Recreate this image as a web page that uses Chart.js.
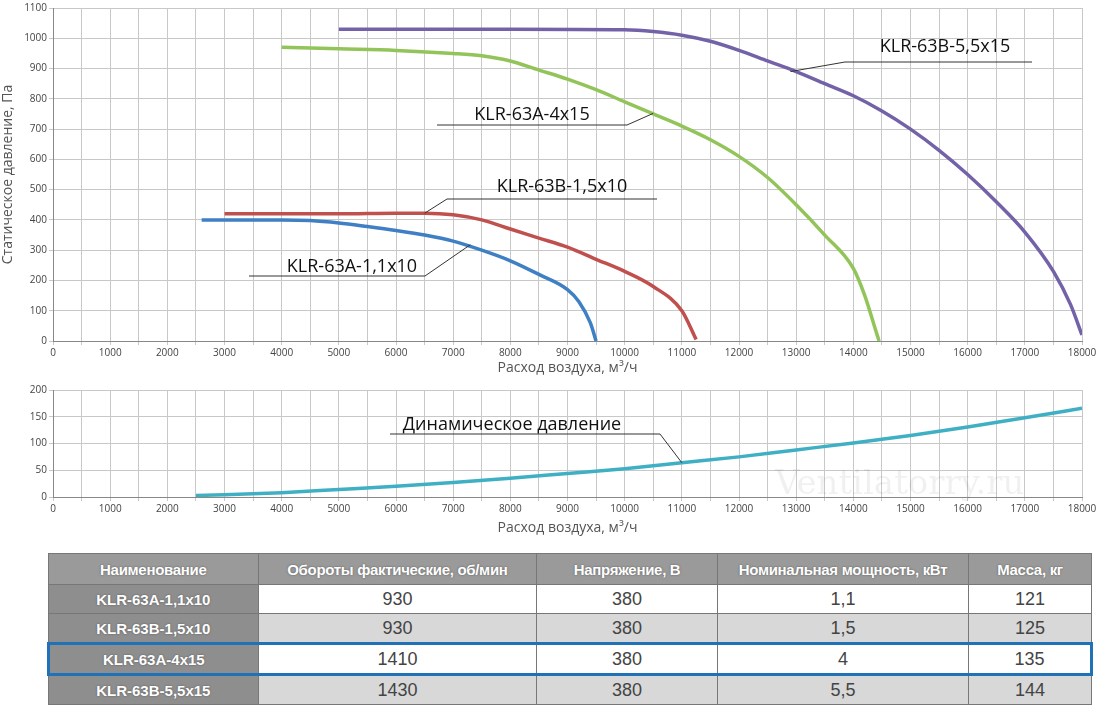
<!DOCTYPE html>
<html><head><meta charset="utf-8">
<script src="https://cdn.jsdelivr.net/npm/chart.js@4"></script>
<style>
body{margin:0;background:#fff;width:1100px;height:707px;position:relative;overflow:hidden;font-family:"Open Sans",sans-serif}
#c1w{position:absolute;left:0;top:0;width:1100px;height:380px}
#c2w{position:absolute;left:0;top:380px;width:1100px;height:160px}
table{position:absolute;left:47px;top:553px;width:1046px;border-collapse:collapse;font-family:"Liberation Sans","DejaVu Sans Condensed",sans-serif;font-size:18px;color:#333}
td,th{border:1px solid #777;height:28px;text-align:center;padding:0}
td{font-weight:300;color:#444}
th{background:#9a9a9a;color:#fff;font-weight:bold;font-size:15px;text-shadow:0 0 2px #555;height:30px;letter-spacing:-0.3px}
tr td.n{background:#8e8e8e;color:#fff;font-weight:bold;font-size:15px;text-shadow:0 0 2px #555}
tr.g td{background:#d8d8d8}
tr.g td.n{background:#8e8e8e}
tr.hl td{border-top:3px solid #1f72b8;border-bottom:3px solid #1f72b8}
tr.hl td:first-child{border-left:3px solid #1f72b8}
tr.hl td:last-child{border-right:3px solid #1f72b8}
#wm{position:absolute;left:775px;top:462px;font-size:34px;color:rgba(0,0,0,0.06);font-family:"DejaVu Serif",serif}
</style></head><body>
<div id="c1w"><canvas id="c1"></canvas></div>
<div id="c2w"><canvas id="c2"></canvas></div>
<div id="wm">Ventilatorry.ru</div>
<table id="tbl"></table>
<script>
const sA11x=[2600,3000,4000,4500,5000,5500,6000,6500,7000,7500,8000,8500,9000,9200,9400,9500];
const sA11y=[400,400,400,398,390,378,365,350,330,300,265,220,170,130,60,0];
const sB15x=[3000,4000,5000,6000,6500,7000,7500,8000,8500,9000,9500,10000,10500,11000,11250];
const sB15y=[420,420,420,422,422,417,400,370,340,310,270,230,180,100,5];
const sA4x=[4000,5000,6000,7000,7500,8000,8500,9000,9500,10000,10500,11000,11500,12000,12500,13000,13500,14000,14200,14400,14450];
const sA4y=[970,965,960,950,942,925,895,865,830,790,750,710,665,610,540,450,350,240,150,30,0];
const sB55x=[5000,8000,10000,10500,11000,11500,12000,12500,13000,13500,14000,14500,15000,15500,16000,16500,17000,17500,17800,18000];
const sB55y=[1030,1030,1028,1022,1010,990,960,925,890,850,810,760,700,630,550,460,360,230,120,20];
const dynX=[2500,3000,4000,5000,6000,7000,8000,9000,10000,11000,12000,13000,14000,15000,16000,17000,18000];
const dynY=[3,4,8,14,20,27,35,44,53,64,75,88,101,115,131,148,166];
const names=["KLR-63A-1,1x10","KLR-63B-1,5x10","KLR-63A-4x15","KLR-63B-5,5x15"];
const rpm=["930","930","1410","1430"];
const volt=["380","380","380","380"];
const power=["1,1","1,5","4","5,5"];
const mass=["121","125","135","144"];
const headers=["Наименование","Обороты фактические, об/мин","Напряжение, В","Номинальная мощность, кВт","Масса, кг"];
const xTitle="Расход воздуха, м³/ч";

const pts=(xs,ys)=>xs.map((x,i)=>({x,y:ys[i]}));
const tickFont={size:10,family:"Open Sans"};
const xScale=(h)=>({type:'linear',min:0,max:18000,afterFit:s=>{s.height=h},
  ticks:{stepSize:500,autoSkip:false,maxRotation:0,color:'#444',font:tickFont,padding:2,callback:v=>v%1000===0?String(v):''},
  grid:{color:'#c8c8c8',tickLength:4},border:{color:'#888'},
  title:{display:true,text:xTitle,color:'#555',font:{size:14,family:"Open Sans"},padding:{top:2}}});
const yTicks=(st)=>({stepSize:st,color:'#444',font:tickFont,padding:2,callback:v=>String(v)});
const ds=(d,c)=>({data:d,borderColor:c,borderWidth:3.5,pointRadius:0,cubicInterpolationMode:'monotone',fill:false});

function annot(list){return{id:'annot',afterDatasetsDraw(ch){const c=ch.ctx,xs=ch.scales.x,ys=ch.scales.y;c.save();
  list.forEach(a=>{c.font='18px "Open Sans"';c.fillStyle='#111';c.textAlign='center';c.textBaseline='alphabetic';
  c.fillText(a[0],a[1],a[2]);c.strokeStyle='#333';c.lineWidth=1;c.beginPath();
  const px=xs.getPixelForValue(a[6]),py=ys.getPixelForValue(a[7]);
  c.moveTo(a[3],a[5]);c.lineTo(a[4],a[5]);c.moveTo(a[8],a[5]);c.lineTo(px,py);c.stroke();});c.restore();}}}

new Chart(document.getElementById('c1'),{type:'line',
 data:{datasets:[ds(pts(sA11x,sA11y),'#3f7fc4'),ds(pts(sB15x,sB15y),'#c0504d'),ds(pts(sA4x,sA4y),'#92c45a'),ds(pts(sB55x,sB55y),'#7462a8')]},
 options:{animation:false,responsive:true,maintainAspectRatio:false,layout:{padding:{top:8,right:18}},
  plugins:{legend:{display:false},tooltip:{enabled:false}},
  scales:{x:xScale(39),y:{min:0,max:1100,afterFit:s=>{s.width=53},ticks:yTicks(100),
   grid:{color:'#c8c8c8',tickLength:4},border:{color:'#888'},
   title:{display:true,text:'Статическое давление, Па',color:'#555',font:{size:14,family:"Open Sans"},padding:0}}}},
 plugins:[annot([
  ['KLR-63B-5,5x15',945,52,845,1032,62,12900,890,845],
  ['KLR-63A-4x15',532,120,437,627,125,10500,752,627],
  ['KLR-63B-1,5x10',562,192,447,657,199,6500,422,447],
  ['KLR-63A-1,1x10',352,272,249,425,276,7300,318,425]])]});

new Chart(document.getElementById('c2'),{type:'line',
 data:{datasets:[ds(pts(dynX,dynY),'#3fb0c4')]},
 options:{animation:false,responsive:true,maintainAspectRatio:false,layout:{padding:{top:10,right:18}},
  plugins:{legend:{display:false},tooltip:{enabled:false}},
  scales:{x:xScale(43),y:{min:0,max:200,afterFit:s=>{s.width=53},ticks:yTicks(50),
   grid:{color:'#c8c8c8',tickLength:4},border:{color:'#888'}}}},
 plugins:[annot([['Динамическое давление',512,50,390,660,54,11000,64,660]])]});

let h='<tr>'+headers.map(t=>'<th>'+t+'</th>').join('')+'</tr>';
names.forEach((n,i)=>{h+='<tr class="'+(i%2?'g':'')+(i===2?' hl':'')+'"><td class="n">'+n+'</td><td>'+rpm[i]+'</td><td>'+volt[i]+'</td><td>'+power[i]+'</td><td>'+mass[i]+'</td></tr>';});
const tb=document.getElementById('tbl');tb.innerHTML=h;
const w=[210,280,181,252,123];tb.querySelectorAll('tr:first-child th').forEach((e,i)=>e.style.width=w[i]+'px');
</script></body></html>
